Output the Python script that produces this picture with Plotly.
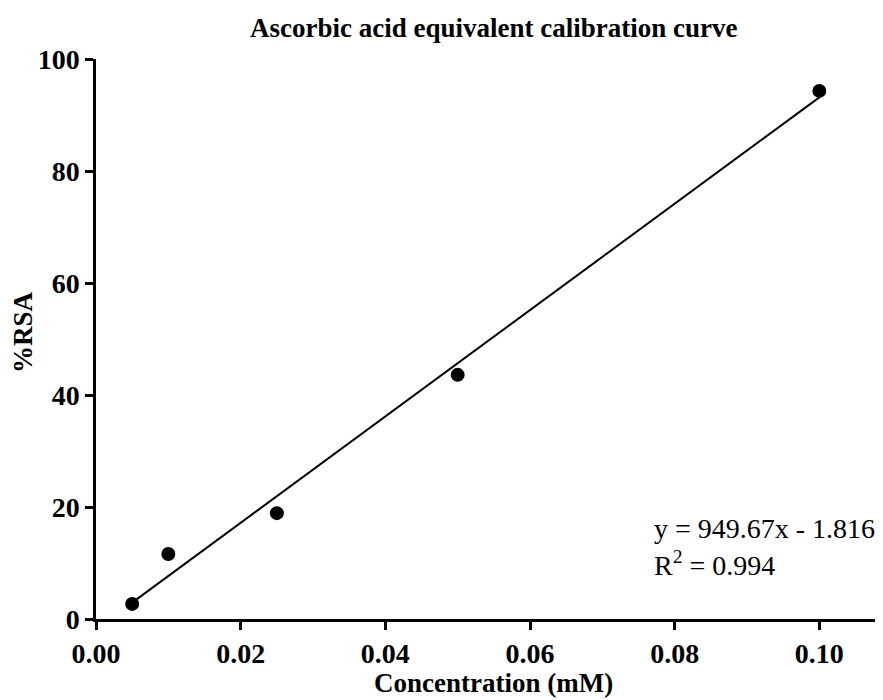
import plotly.graph_objects as go

concentration = [0.005, 0.01, 0.025, 0.05, 0.10]
rsa = [2.7, 11.6, 18.9, 43.6, 94.3]
slope = 949.67
intercept = -1.816
fit_x = [0.005, 0.10]
fit_y = [slope * v + intercept for v in fit_x]
x_ticks = [0.00, 0.02, 0.04, 0.06, 0.08, 0.10]
x_tick_labels = ["0.00", "0.02", "0.04", "0.06", "0.08", "0.10"]
y_ticks = [0, 20, 40, 60, 80, 100]

serif = "Liberation Serif, Times New Roman, serif"

# The page body has an 8px default margin; size the figure so it fills the window.
OFF = 8
WIN_W, WIN_H = 883, 700
W, H = WIN_W - OFF, WIN_H - OFF
# plot area in window pixels
PX0, PX1, PY0, PY1 = 96, 883, 59, 619
L, R, T, B = PX0 - OFF, WIN_W - PX1, PY0 - OFF, WIN_H - PY1
pw, ph = PX1 - PX0, PY1 - PY0


def px(xw):
    return (xw - PX0) / pw


def py(yw):
    return (PY1 - yw) / ph


fig = go.Figure()
fig.add_trace(go.Scatter(x=fit_x, y=fit_y, mode="lines",
                         line=dict(color="black", width=2), showlegend=False))
fig.add_trace(go.Scatter(x=concentration, y=rsa, mode="markers",
                         marker=dict(color="black", size=14), showlegend=False,
                         cliponaxis=False))

fig.update_layout(
    width=W, height=H,
    margin=dict(l=L, r=R, t=T, b=B, autoexpand=False),
    paper_bgcolor="white", plot_bgcolor="white",
    font=dict(family=serif, color="black"),
)
fig.update_xaxes(
    range=[0, 0.1088], tickvals=x_ticks, ticktext=["<b>%s</b>" % t for t in x_tick_labels],
    showline=True, linecolor="black", linewidth=2.5,
    ticks="outside", ticklen=8, tickwidth=2.5, tickcolor="black",
    showgrid=False, zeroline=False, automargin=False,
    tickfont=dict(family=serif, size=28, color="black"),
)
fig.update_yaxes(
    range=[0, 100], tickvals=y_ticks, ticktext=["<b>%d</b>" % t for t in y_ticks],
    showline=True, linecolor="black", linewidth=2.5,
    ticks="outside", ticklen=8, tickwidth=2.5, tickcolor="black",
    showgrid=False, zeroline=False, automargin=False,
    tickfont=dict(family=serif, size=28, color="black"),
)
# chart title
fig.add_annotation(text="<b>Ascorbic acid equivalent calibration curve</b>", xref="paper", yref="paper",
                   x=px(494), y=py(28), xanchor="center", yanchor="middle", showarrow=False,
                   font=dict(family=serif, size=27, color="black"))
# axis titles
fig.add_annotation(text="<b>Concentration (mM)</b>", xref="paper", yref="paper",
                   x=px(494), y=py(683), xanchor="center", yanchor="middle", showarrow=False,
                   font=dict(family=serif, size=27, color="black"))
fig.add_annotation(text="<b>%RSA</b>", xref="paper", yref="paper", textangle=-90,
                   x=px(23), y=py(332), xanchor="center", yanchor="middle", showarrow=False,
                   font=dict(family=serif, size=27, color="black"))
# regression equation
fig.add_annotation(text="y = 949.67x - 1.816", xref="paper", yref="paper",
                   x=px(652), y=py(528), xanchor="left", yanchor="middle",
                   showarrow=False, font=dict(family=serif, size=28, color="black"))
fig.add_annotation(text="R<sup>2</sup> = 0.994", xref="paper", yref="paper",
                   x=px(652), y=py(563), xanchor="left", yanchor="middle",
                   showarrow=False, font=dict(family=serif, size=28, color="black"))

fig.write_html("out.html")
